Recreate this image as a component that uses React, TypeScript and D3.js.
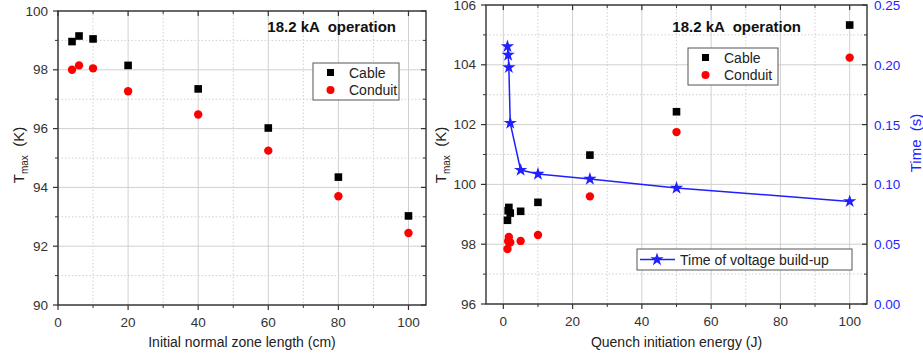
import * as d3 from "d3"

// left panel: initial normal zone length
const lengthCm = [4, 6, 10, 20, 40, 60, 80, 100]
const lengthCable = [98.96, 99.15, 99.05, 98.15, 97.35, 96.02, 94.35, 93.03]
const lengthConduit = [98.0, 98.15, 98.05, 97.27, 96.48, 95.25, 93.7, 92.45]

// right panel: quench initiation energy
const energyJ = [1.2, 1.4, 1.6, 2, 5, 10, 25, 50, 100]
const energyCable = [98.8, 99.12, 99.23, 99.04, 99.1, 99.4, 100.98, 102.43, 105.33]
const energyConduit = [97.84, 98.1, 98.24, 98.06, 98.11, 98.31, 99.6, 101.75, 104.24]
const buildUpTime = [0.2154, 0.2082, 0.1978, 0.1513, 0.112, 0.1087, 0.1045, 0.097, 0.0858]

const xTicks = [0, 20, 40, 60, 80, 100]
const xMinor = [10, 30, 50, 70, 90]
const leftYTicks = [90, 92, 94, 96, 98, 100]
const leftYMinor = [91, 93, 95, 97, 99]
const rightYTicks = [96, 98, 100, 102, 104, 106]
const rightYMinor = [97, 99, 101, 103, 105]
const timeTicks = [0, 0.05, 0.1, 0.15, 0.2, 0.25]
const timeMinor = [0.025, 0.075, 0.125, 0.175, 0.225]

const title = "18.2 kA  operation"
const font = "'Liberation Sans', Arial, sans-serif"
const frameColor = "#333"
const gridColor = "#d0d0d0"
const tickText = "#333"
const blue = "#1f1fff"

function Panel({ x, y, xT, xM, yT, yM, xLabel, labelX, titleEnd }) {
    const [x0, x1] = x.range()
    const [y1, y0] = y.range()
    return (
        <g>
            {xM.map((v) => (
                <line key={"gxm" + v} x1={x(v)} x2={x(v)} y1={y0} y2={y1} stroke={gridColor} strokeDasharray="1.5,2" />
            ))}
            {yM.map((v) => (
                <line key={"gym" + v} x1={x0} x2={x1} y1={y(v)} y2={y(v)} stroke={gridColor} strokeDasharray="1.5,2" />
            ))}
            {xT.map((v) => (
                <line key={"gx" + v} x1={x(v)} x2={x(v)} y1={y0} y2={y1} stroke={gridColor} />
            ))}
            {yT.map((v) => (
                <line key={"gy" + v} x1={x0} x2={x1} y1={y(v)} y2={y(v)} stroke={gridColor} />
            ))}
            <rect x={x0} y={y0} width={x1 - x0} height={y1 - y0} fill="none" stroke={frameColor} strokeWidth={1.4} />

            {/* bottom + top ticks */}
            {xT.map((v) => (
                <g key={"xt" + v}>
                    <line x1={x(v)} x2={x(v)} y1={y1} y2={y1 + 5} stroke={frameColor} strokeWidth={1.2} />
                    <line x1={x(v)} x2={x(v)} y1={y0} y2={y0 + 5} stroke={frameColor} strokeWidth={1.2} />
                    <text x={x(v)} y={y1 + 22} textAnchor="middle" fontSize={13.5} fill={tickText}>{v}</text>
                </g>
            ))}
            {xM.map((v) => (
                <g key={"xm" + v}>
                    <line x1={x(v)} x2={x(v)} y1={y1} y2={y1 + 3} stroke={frameColor} />
                    <line x1={x(v)} x2={x(v)} y1={y0} y2={y0 + 3} stroke={frameColor} />
                </g>
            ))}
            {/* left ticks */}
            {yT.map((v) => (
                <g key={"yt" + v}>
                    <line x1={x0 - 5} x2={x0} y1={y(v)} y2={y(v)} stroke={frameColor} strokeWidth={1.2} />
                    <text x={labelX} y={y(v) + 4.5} textAnchor="end" fontSize={13.5} fill={tickText}>{v}</text>
                </g>
            ))}
            {yM.map((v) => (
                <line key={"ym" + v} x1={x0 - 3} x2={x0} y1={y(v)} y2={y(v)} stroke={frameColor} />
            ))}
            <text x={(x0 + x1) / 2} y={347} textAnchor="middle" fontSize={14} fill="#222">{xLabel}</text>
            <text x={titleEnd} y={32} textAnchor="end" fontSize={15} fontWeight="bold" fill="#111"
                style={{ whiteSpace: "pre" }}>{title}</text>
        </g>
    )
}

function TLabel({ x, y }) {
    return (
        <text transform={`translate(${x},${y}) rotate(-90)`} textAnchor="middle" fontSize={15} fill="#222"
            style={{ whiteSpace: "pre" }}>
            T<tspan fontSize={10} dy={4}>max</tspan>
            <tspan dy={-4}>{"  (K)"}</tspan>
        </text>
    )
}

function Legend({ x, y, w }) {
    return (
        <g transform={`translate(${x},${y})`}>
            <rect width={w} height={37} fill="#fff" stroke="#555" />
            <rect x={14} y={6} width={7} height={7} fill="#000" />
            <text x={36} y={15} fontSize={14} fill="#222">Cable</text>
            <circle cx={17.5} cy={27} r={4} fill="#f00" />
            <text x={36} y={32} fontSize={14} fill="#222">Conduit</text>
        </g>
    )
}

export default function App() {
    const xl = d3.scaleLinear().domain([0, 105]).range([58, 426])
    const yl = d3.scaleLinear().domain([90, 100]).range([305, 11])

    const xr = d3.scaleLinear().domain([-5, 105]).range([486, 867])
    const yr = d3.scaleLinear().domain([96, 106]).range([304, 5])
    const yt = d3.scaleLinear().domain([0, 0.25]).range([304, 5])

    const star = d3.symbol().type(d3.symbolStar).size(55)()
    const timeLine =
        d3
            .line()
            .x((d) => xr(d[0]))
            .y((d) => yt(d[1]))(energyJ.map((e, i) => [e, buildUpTime[i]])) || ""

    const rx1 = xr.range()[1]

    return (
        <svg
            width={923}
            height={360}
            style={{ position: "absolute", left: 0, top: 0, background: "#fff", fontFamily: font }}
        >
            {/* left panel */}
            <Panel x={xl} y={yl} xT={xTicks} xM={xMinor} yT={leftYTicks} yM={leftYMinor}
                xLabel="Initial normal zone length (cm)" labelX={48} titleEnd={396} />
            {/* right side ticks of left panel */}
            {leftYTicks.map((v) => (
                <line key={"lr" + v} x1={426 - 5} x2={426} y1={yl(v)} y2={yl(v)} stroke={frameColor} strokeWidth={1.2} />
            ))}
            {leftYMinor.map((v) => (
                <line key={"lrm" + v} x1={426 - 3} x2={426} y1={yl(v)} y2={yl(v)} stroke={frameColor} />
            ))}
            <TLabel x={24} y={155} />
            <Legend x={313} y={63} w={86} />
            {lengthCm.map((v, i) => (
                <rect key={"lc" + v} x={xl(v) - 3.8} y={yl(lengthCable[i]) - 3.8} width={7.6} height={7.6} fill="#000" />
            ))}
            {lengthCm.map((v, i) => (
                <circle key={"ld" + v} cx={xl(v)} cy={yl(lengthConduit[i])} r={4.2} fill="#f00" />
            ))}

            {/* right panel */}
            <Panel x={xr} y={yr} xT={xTicks} xM={xMinor} yT={rightYTicks} yM={rightYMinor}
                xLabel="Quench initiation energy (J)" labelX={476} titleEnd={801} />
            <TLabel x={446} y={155} />
            {timeTicks.map((v) => (
                <g key={"tt" + v}>
                    <line x1={rx1 - 5} x2={rx1} y1={yt(v)} y2={yt(v)} stroke={frameColor} strokeWidth={1.2} />
                    <text x={874} y={yt(v) + 5} fontSize={13.5} fill={blue}>{v.toFixed(2)}</text>
                </g>
            ))}
            {timeMinor.map((v) => (
                <line key={"tm" + v} x1={rx1 - 3} x2={rx1} y1={yt(v)} y2={yt(v)} stroke={frameColor} />
            ))}
            <text transform="translate(921,143) rotate(-90)" textAnchor="middle" fontSize={15} fill={blue}
                style={{ whiteSpace: "pre" }}>
                {"Time  (s)"}
            </text>
            <Legend x={688} y={48} w={90} />
            <g transform="translate(637,249)">
                <rect width={215} height={21} fill="#fff" stroke="#555" />
                <line x1={3} x2={38} y1={10.5} y2={10.5} stroke={blue} strokeWidth={1.5} />
                <path d={star} transform="translate(20,10.5)" fill={blue} />
                <text x={43} y={16} fontSize={14} fill="#222">Time of voltage build-up</text>
            </g>
            {energyJ.map((v, i) => (
                <rect key={"ec" + i} x={xr(v) - 3.8} y={yr(energyCable[i]) - 3.8} width={7.6} height={7.6} fill="#000" />
            ))}
            {energyJ.map((v, i) => (
                <circle key={"ed" + i} cx={xr(v)} cy={yr(energyConduit[i])} r={4.2} fill="#f00" />
            ))}
            <path d={timeLine} fill="none" stroke={blue} strokeWidth={1.5} />
            {energyJ.map((v, i) => (
                <path key={"es" + i} d={star} transform={`translate(${xr(v)},${yt(buildUpTime[i])})`} fill={blue} />
            ))}
        </svg>
    )
}
